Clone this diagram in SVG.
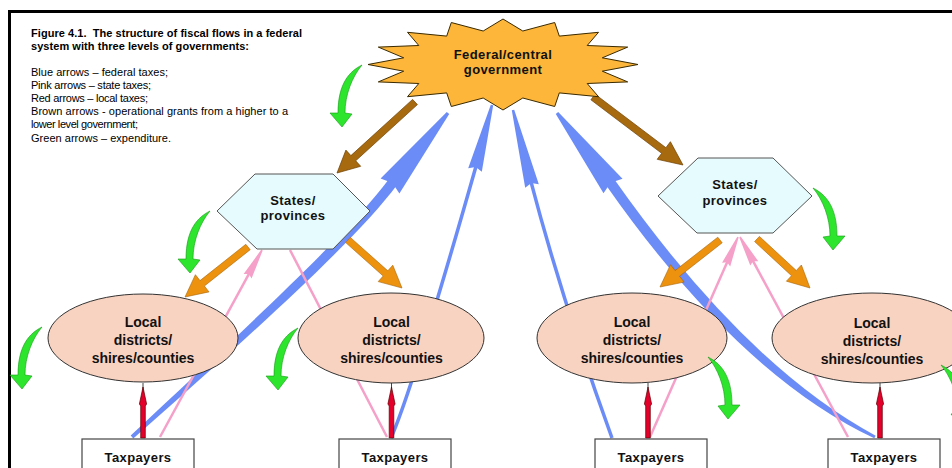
<svg xmlns="http://www.w3.org/2000/svg" width="952" height="468" viewBox="0 0 952 468">
<style>
.t{font-family:"Liberation Sans",Arial,sans-serif;font-size:11px;fill:#000}
.tb{font-family:"Liberation Sans",Arial,sans-serif;font-size:11px;font-weight:bold;fill:#000}
.nl{font-family:"Liberation Sans",Arial,sans-serif;font-size:13px;font-weight:bold;fill:#111;text-anchor:middle;letter-spacing:0.4px}
.el{font-family:"Liberation Sans",Arial,sans-serif;font-size:14px;font-weight:bold;fill:#111;text-anchor:middle}
.star{fill:#FDB53A;stroke:#3A2A00;stroke-width:1}
.hex{fill:#E6FBFD;stroke:#555;stroke-width:1}
.ell{fill:#F9D3C1;stroke:#333;stroke-width:1}
.box{fill:#fff;stroke:#444;stroke-width:1.2}
.blue{fill:#6B8CF6}
.blueL{fill:none;stroke:#6B8CF6;stroke-width:3.5}
.pinkL{fill:none;stroke:#F5A0C8;stroke-width:2.5}
.pink{fill:#F5A0C8}
.brown{fill:#A86A0E;stroke:#6B3D00;stroke-width:0.7}
.orange{fill:#EC920F;stroke:#A8640A;stroke-width:0.6}
.red{fill:#E4002B;stroke:#5A0000;stroke-width:0.7}
.green{fill:#2EE52E;stroke:#149914;stroke-width:0.6}
</style>
<defs>
<path id="redArrow" d="M0,387 L3.6,404 L2.3,406 L2.3,438 L-2.3,438 L-2.3,406 L-3.6,404 Z"/>
<path id="greenArrow" d="M0,0 C-12,6 -24,18 -24,48 L-32,48 L-20,62 L-10,49 L-17,48 C-17,30 -10,12 0,0 Z"/>
</defs>
<rect width="952" height="468" fill="#fff"/>
<path d="M9.5 468 V11.5 H952" fill="none" stroke="#000" stroke-width="3"/>

<g id="legend">
<text class="tb" x="31" y="37" textLength="271" lengthAdjust="spacing" xml:space="preserve">Figure 4.1.  The structure of fiscal flows in a federal</text>
<text class="tb" x="31" y="49.5" textLength="218" lengthAdjust="spacing">system with three levels of governments:</text>
<text class="t" x="31" y="76" textLength="137" lengthAdjust="spacing">Blue arrows – federal taxes;</text>
<text class="t" x="31" y="89" textLength="120" lengthAdjust="spacing">Pink arrows – state taxes;</text>
<text class="t" x="31" y="102.2" textLength="117" lengthAdjust="spacing">Red arrows – local taxes;</text>
<text class="t" x="31" y="115.3" textLength="257" lengthAdjust="spacing">Brown arrows - operational grants from a higher to a</text>
<text class="t" x="31" y="128.4" textLength="107" lengthAdjust="spacing">lower level government;</text>
<text class="t" x="31" y="141.5" textLength="140" lengthAdjust="spacing">Green arrows – expenditure.</text>
</g>

<g id="connectors">
<!-- blue: federal taxes -->
<path class="blue" d="M133.3,438.5 C253.2,333.1 356,240 397,185 L389,179 C348,234 246.8,326.9 130.7,435.5 Z"/>
<polygon class="blue" points="380.6,178.5 446.8,112.1 449.2,113.9 399.4,193.5 392.5,182.9"/>
<path class="blueL" d="M391,438 Q413,388 476.3,165.2"/>
<polygon class="blue" points="468.2,168.2 490.8,104.7 493.2,105.3 481.8,171.8 475.8,167.1"/>
<path class="blueL" d="M612,438 Q562,300 530.8,181.1"/>
<polygon class="blue" points="525.2,187.7 511.8,110.3 514.2,109.7 538.8,184.3 531.3,183.1"/>
<path class="blue" d="M875.7,435.7 Q745.6,365.8 614.1,179.1 L605.9,184.9 Q738.4,374.2 874.3,438.3 Z"/>
<polygon class="blue" points="603.5,193.3 555.8,113.9 558.2,112.1 622.5,178.7 610.6,182.8"/>
<!-- pink: state taxes -->
<path class="pinkL" d="M160,437 L249.5,272.8"/>
<polygon class="pink" points="243.6,274.1 261.3,249.6 262.7,250.4 251.6,278.5 248.8,274.1"/>
<path class="pinkL" d="M387,437 L290,250"/>
<path class="pinkL" d="M650,437 L727.7,260.9"/>
<polygon class="pink" points="722.0,262.8 737.3,236.7 738.7,237.3 730.2,266.4 727.1,262.3"/>
<path class="pinkL" d="M848,437 L752.4,259.9"/>
<polygon class="pink" points="750.3,265.5 739.3,237.4 740.7,236.6 758.3,261.3 753.1,261.2"/>
<!-- brown: federal grants -->
<polygon class="brown" points="417.4,104.6 355.7,160.8 360.7,166.3 337,173 345.9,150.1 350.9,155.6 412.6,99.4"/>
<polygon class="brown" points="590.9,99.8 661.7,153.3 657.2,159.3 683,165 670.4,141.7 665.9,147.7 595.1,94.2"/>
<!-- orange: state grants -->
<polygon class="orange" points="250.2,249.7 204.4,286.0 209.0,291.9 185,297 195.4,274.7 200.0,280.6 245.8,244.3"/>
<polygon class="orange" points="345.7,242.6 383.2,276.0 378.2,281.6 402,288 392.8,265.2 387.8,270.8 350.3,237.4"/>
<polygon class="orange" points="722.2,242.8 679.5,276.2 684.1,282.1 660,287 670.5,264.7 675.1,270.6 717.8,237.2"/>
<polygon class="orange" points="754.6,241.6 791.5,275.7 786.4,281.2 810,288 801.4,265.0 796.3,270.5 759.4,236.4"/>
<!-- red: local taxes -->
<g stroke="#444" stroke-width="1">
<line x1="143" y1="383" x2="143" y2="392"/>
<line x1="391.5" y1="383" x2="391.5" y2="392"/>
<line x1="648" y1="383" x2="648" y2="392"/>
<line x1="880" y1="383" x2="880" y2="392"/>
</g>
<use href="#redArrow" class="red" x="143"/>
<use href="#redArrow" class="red" x="391.5"/>
<use href="#redArrow" class="red" x="648"/>
<use href="#redArrow" class="red" x="880"/>
</g>

<g id="federal">
<polygon class="star" points="503,19 522.8,31 554.7,22.5 559.3,36.1 598.5,32.3 587.2,45.5 627.7,47.1 602.3,57.8 638,64.5 602.3,71.2 627.7,81.9 587.2,83.5 598.5,96.7 559.3,92.9 554.7,106.5 522.8,98 503,110 483.2,98 451.3,106.5 446.7,92.9 407.5,96.7 418.8,83.5 378.3,81.9 403.7,71.2 368,64.5 403.7,57.8 378.3,47.1 418.8,45.5 407.5,32.3 446.7,36.1 451.3,22.5 483.2,31"/>
<text class="nl" x="503" y="59">Federal/central</text>
<text class="nl" x="503" y="74">government</text>
</g>
<g id="state-left">
<polygon class="hex" points="217,211 255,174 333,174 370,211 333,249 257,249"/>
<text class="nl" x="293" y="205">States/</text>
<text class="nl" x="293" y="220">provinces</text>
</g>
<g id="state-right">
<polygon class="hex" points="658,196 698,158 773,158 812,196 773,233 697,233"/>
<text class="nl" x="735" y="189">States/</text>
<text class="nl" x="735" y="205">provinces</text>
</g>
<g id="local-1">
<ellipse class="ell" cx="143" cy="338" rx="95" ry="44"/>
<text class="el" x="143" y="327">Local</text>
<text class="el" x="143" y="345">districts/</text>
<text class="el" x="143" y="363">shires/counties</text>
</g>
<g id="local-2">
<ellipse class="ell" cx="391" cy="338" rx="93" ry="45"/>
<text class="el" x="391.5" y="327">Local</text>
<text class="el" x="391.5" y="345">districts/</text>
<text class="el" x="391.5" y="363">shires/counties</text>
</g>
<g id="local-3">
<ellipse class="ell" cx="632" cy="338" rx="95" ry="45"/>
<text class="el" x="632" y="327">Local</text>
<text class="el" x="632" y="345">districts/</text>
<text class="el" x="632" y="363">shires/counties</text>
</g>
<g id="local-4">
<ellipse class="ell" cx="872" cy="338" rx="100" ry="45"/>
<text class="el" x="872" y="328">Local</text>
<text class="el" x="872" y="346">districts/</text>
<text class="el" x="872" y="364">shires/counties</text>
</g>
<g id="taxpayers-1">
<rect class="box" x="82" y="439" width="112" height="40"/>
<text class="nl" x="138" y="462">Taxpayers</text>
</g>
<g id="taxpayers-2">
<rect class="box" x="339" y="439" width="112" height="40"/>
<text class="nl" x="395" y="462">Taxpayers</text>
</g>
<g id="taxpayers-3">
<rect class="box" x="595" y="439" width="112" height="40"/>
<text class="nl" x="651" y="462">Taxpayers</text>
</g>
<g id="taxpayers-4">
<rect class="box" x="828" y="439" width="112" height="40"/>
<text class="nl" x="884" y="462">Taxpayers</text>
</g>

<g id="expenditure">
<use href="#greenArrow" class="green" transform="translate(362,65)"/>
<use href="#greenArrow" class="green" transform="translate(210,211)"/>
<use href="#greenArrow" class="green" transform="translate(813,188) scale(-1,1)"/>
<use href="#greenArrow" class="green" transform="translate(42,327)"/>
<use href="#greenArrow" class="green" transform="translate(298,328)"/>
<use href="#greenArrow" class="green" transform="translate(708,357) scale(-1,1)"/>
<use href="#greenArrow" class="green" transform="translate(941,365) scale(-1,1)"/>
</g>
</svg>
